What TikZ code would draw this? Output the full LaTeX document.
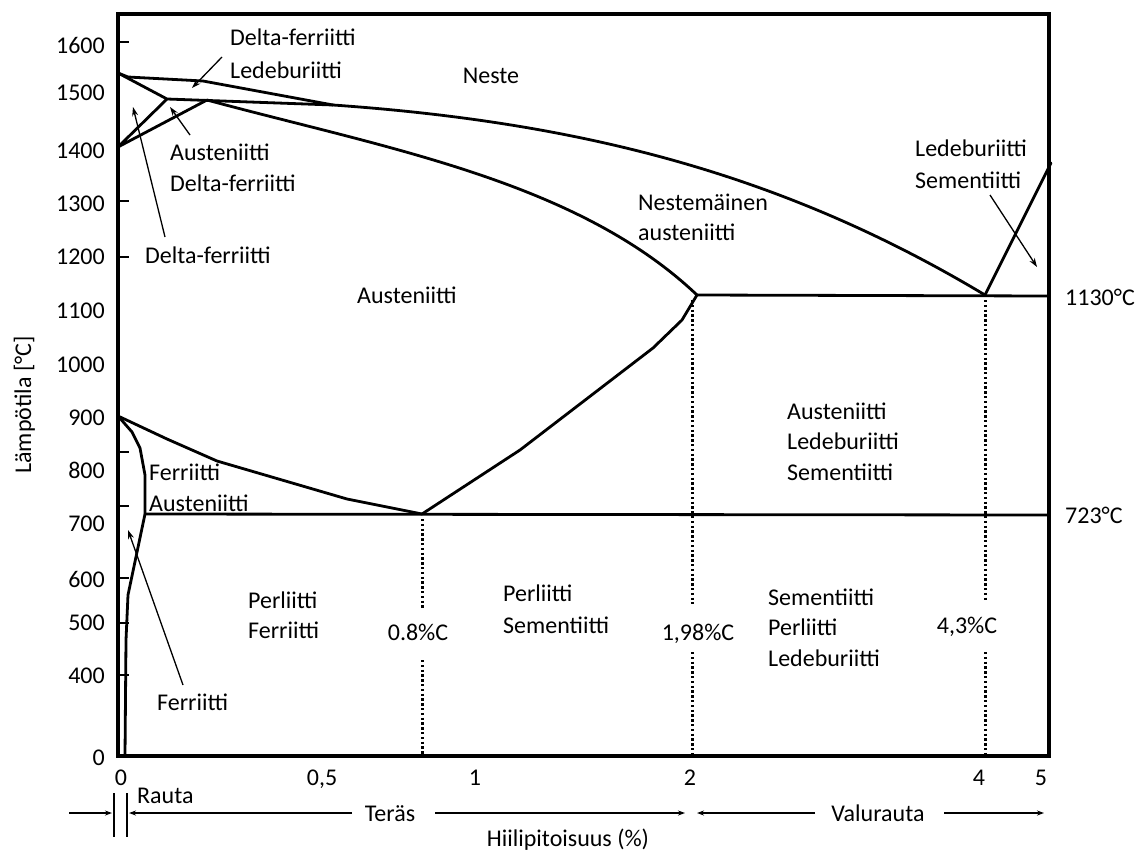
\documentclass[tikz,border=0pt]{standalone}
\usepackage{fontspec}
\setmainfont{Carlito}
\usetikzlibrary{arrows.meta}
\begin{document}
\begin{tikzpicture}[x=1pt,y=-1pt,
  phase/.style={line width=2.8pt, line join=round, line cap=round},
  framebox/.style={line width=3.4pt},
  tickmark/.style={line width=2.5pt},
  dots/.style={line width=3pt, dash pattern=on 2.4pt off 2.4pt},
  ptr/.style={line width=1.3pt, -{Stealth[length=9pt,width=6pt]}},
  barrow/.style={line width=1.2pt, -{Stealth[length=7pt,width=5pt]}},
  txt/.style={font=\fontsize{24}{28}\selectfont, inner sep=0pt, text height=16pt, text depth=0pt},
  lbl/.style={txt, anchor=west},
  ylab/.style={txt, anchor=east},
  xlab/.style={txt, anchor=center}]
\useasboundingbox (0,0) rectangle (1147,854);

% key points
\coordinate (A) at (118,73);
\coordinate (B) at (128,77);
\coordinate (C) at (203,81);
\coordinate (J) at (333,105);
\coordinate (P) at (167,99);
\coordinate (Q) at (207,100);
\coordinate (D) at (118,147);
\coordinate (E) at (697,295);
\coordinate (E4) at (985,295);
\coordinate (ER) at (1049,296);
\coordinate (LC) at (1051,163);
\coordinate (S) at (422,514);
\coordinate (G) at (118,416);
\coordinate (F) at (145,514);
\coordinate (SR) at (1049,515);

% frame
\draw[framebox] (118,14) rectangle (1049,756);

% ticks
\foreach \yy in {42,201,257,452,506,578,623,675}
  \draw[tickmark] (118,\yy) -- (129,\yy);

% phase lines
\draw[phase] (A) -- (B) -- (C) -- (J);
\draw[phase] (J) .. controls (583,122.5) and (785,175) .. (E4);
\draw[phase] (A) -- (P) -- (J);
\draw[phase] (P) -- (D) -- (Q);
\draw[phase] (Q) .. controls (387,148.6) and (577,181) .. (E);
\draw[phase] (E) -- (ER);
\draw[phase] (E4) -- (LC);
\draw[phase] (E) -- (682,320) -- (653,348) -- (520,450) -- (S);
\draw[phase] (G) -- (167,439) -- (217,461) -- (347,499) -- (S);
\draw[phase] (F) -- (SR);
\draw[phase] (G) -- (132,432) -- (140,448) -- (145,475) -- (F) -- (128,595) -- (126,640) -- (125,756);

% dotted composition lines
\draw[dots] (422,519) -- (422,608);
\draw[dots] (422,660) -- (422,756);
\draw[dots] (692,300) -- (692,604);
\draw[dots] (692,652) -- (692,756);
\draw[dots] (985,300) -- (985,602);
\draw[dots] (985,652) -- (985,754);

% y labels
\node[ylab] (y1600) at (105,45) {1600};
\node[ylab] (y1500) at (105,92) {1500};
\node[ylab] (y1400) at (105,150) {1400};
\node[ylab] (y1300) at (105,203) {1300};
\node[ylab] (y1200) at (105,256) {1200};
\node[ylab] (y1100) at (105,310) {1100};
\node[ylab] (y1000) at (105,364) {1000};
\node[ylab] (y900) at (105,417) {900};
\node[ylab] (y800) at (105,470) {800};
\node[ylab] (y700) at (105,523) {700};
\node[ylab] (y600) at (105,579) {600};
\node[ylab] (y500) at (105,622) {500};
\node[ylab] (y400) at (105,675) {400};
\node[ylab] (y0) at (105,757) {0};
\node[txt, rotate=90] (ytitle) at (23,405) {Lämpötila [°C]};

% x labels
\node[xlab] (x0) at (121,777) {0};
\node[xlab] (x05) at (322,777) {0,5};
\node[xlab] (x1) at (475,777) {1};
\node[xlab] (x2) at (690,777) {2};
\node[xlab] (x4) at (979,777) {4};
\node[xlab] (x5) at (1041,777) {5};

% region labels
\node[lbl] (dl1) at (230,37) {Delta-ferriitti};
\node[lbl] (dl2) at (230,70) {Ledeburiitti};
\node[xlab] (neste) at (491,75) {Neste};
\node[lbl] (ad1) at (170,152) {Austeniitti};
\node[lbl] (ad2) at (170,183) {Delta-ferriitti};
\node[lbl] (dfl) at (145,255) {Delta-ferriitti};
\node[lbl] (aus) at (357,295) {Austeniitti};
\node[lbl] (na1) at (638,202) {Nestemäinen};
\node[lbl] (na2) at (638,232) {austeniitti};
\node[lbl] (ls1) at (915,148) {Ledeburiitti};
\node[lbl] (ls2) at (915,180) {Sementiitti};
\node[lbl] (t1130) at (1065,297) {1130°C};
\node[lbl] (als1) at (787,411) {Austeniitti};
\node[lbl] (als2) at (787,441) {Ledeburiitti};
\node[lbl] (als3) at (787,472) {Sementiitti};
\node[lbl] (fa1) at (149,472) {Ferriitti};
\node[lbl] (fa2) at (149,503) {Austeniitti};
\node[lbl] (t723) at (1065,515) {723°C};
\node[lbl] (pf1) at (248,600) {Perliitti};
\node[lbl] (pf2) at (248,630) {Ferriitti};
\node[xlab] (c08) at (418,632) {0.8\%C};
\node[lbl] (ps1) at (503,593) {Perliitti};
\node[lbl] (ps2) at (503,625) {Sementiitti};
\node[xlab] (c198) at (698,632) {1,98\%C};
\node[lbl] (spl1) at (768,597) {Sementiitti};
\node[lbl] (spl2) at (768,627) {Perliitti};
\node[lbl] (spl3) at (768,658) {Ledeburiitti};
\node[xlab] (c43) at (967,625) {4,3\%C};
\node[lbl] (fer) at (157,702) {Ferriitti};

% pointer arrows
\coordinate (a1s) at (222,57); \coordinate (a1e) at (192,88);
\coordinate (a2s) at (190,135); \coordinate (a2e) at (170,107);
\coordinate (a3s) at (165,237); \coordinate (a3e) at (133,107);
\coordinate (a4s) at (183,685); \coordinate (a4e) at (128,530);
\coordinate (a5s) at (990,195); \coordinate (a5e) at (1037,267);
\draw[ptr] (a1s) -- (a1e);
\draw[ptr] (a2s) -- (a2e);
\draw[ptr] (a3s) -- (a3e);
\draw[ptr] (a4s) -- (a4e);
\draw[ptr] (a5s) -- (a5e);

% bottom classification
\coordinate (b1t) at (114,793); \coordinate (b1b) at (114,837);
\coordinate (b2t) at (127,793); \coordinate (b2b) at (127,837);
\draw[line width=1.2pt] (b1t) -- (b1b);
\draw[line width=1.2pt] (b2t) -- (b2b);
\coordinate (r0) at (69,813); \coordinate (r1) at (112,813);
\draw[barrow] (r0) -- (r1);
\node[lbl] (rauta) at (137,795) {Rauta};
\node[xlab] (teras) at (390,813) {Teräs};
\coordinate (t0) at (352,813); \coordinate (t1) at (129,813);
\coordinate (t2) at (435,813); \coordinate (t3) at (685,813);
\draw[barrow] (t0) -- (t1);
\draw[barrow] (t2) -- (t3);
\node[xlab] (valu) at (878,813) {Valurauta};
\coordinate (v0) at (815,813); \coordinate (v1) at (697,813);
\coordinate (v2) at (944,813); \coordinate (v3) at (1044,813);
\draw[barrow] (v0) -- (v1);
\draw[barrow] (v2) -- (v3);
\node[xlab] (hiili) at (568,838) {Hiilipitoisuus (\%)};
\end{tikzpicture}
\end{document}
